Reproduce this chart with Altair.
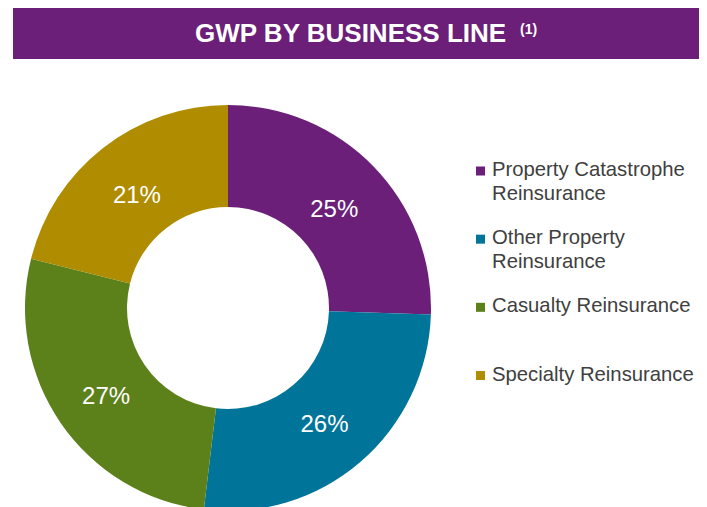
import altair as alt
import pandas as pd

# ---- data ----
categories = [
    "Property Catastrophe Reinsurance",
    "Other Property Reinsurance",
    "Casualty Reinsurance",
    "Specialty Reinsurance",
]
legend_line1 = ["Property Catastrophe", "Other Property", "Casualty Reinsurance", "Specialty Reinsurance"]
legend_line2 = ["Reinsurance", "Reinsurance", "", ""]
shares = [25.5, 26.4, 27.0, 21.1]
share_labels = ["25%", "26%", "27%", "21%"]
colors = ["#6B1F78", "#007599", "#5C801A", "#B08C00"]
title_main = ["GWP BY BUSINESS LINE"]
title_note = ["(1)"]

df = pd.DataFrame({
    "cat": categories,
    "order": list(range(len(categories))),
    "share": shares,
    "label": share_labels,
    "line1": legend_line1,
    "line2": legend_line2,
})

FONT = "Liberation Sans"
CX, CY = 220, 300

base = alt.Chart(df)
color = alt.Color("cat:N", scale=alt.Scale(domain=categories, range=colors), legend=None)
theta = alt.Theta("share:Q", stack=True)
order = alt.Order("order:Q")

arc = base.mark_arc(radius=203, innerRadius=101).encode(
    theta=theta, order=order, color=color,
    x=alt.value(CX), y=alt.value(CY),
)

pct = base.mark_text(radius=148, fontSize=24, font=FONT, color="white", dy=5).encode(
    theta=theta, order=order, text="label:N",
    x=alt.value(CX), y=alt.value(CY),
)

ly = alt.Y("cat:N", scale=alt.Scale(domain=categories, range=[163, 367.5], padding=0), axis=None)

squares = base.mark_square(size=81, opacity=1).encode(
    x=alt.value(472.5), y=ly, color=color,
)
t1 = base.mark_text(align="left", baseline="middle", fontSize=20.3, font=FONT, color="#404040", dy=-1).encode(
    x=alt.value(484), y=ly, text="line1:N",
)
t2 = base.mark_text(align="left", baseline="middle", fontSize=20.3, font=FONT, color="#404040", dy=22.5).encode(
    x=alt.value(484), y=ly, text="line2:N",
)

banner = alt.Chart(pd.DataFrame({"t": title_main})).mark_rect(color="#6B1F78").encode(
    x=alt.value(5), x2=alt.value(700), y=alt.value(-1), y2=alt.value(51),
)
title_text = alt.Chart(pd.DataFrame({"t": title_main})).mark_text(
    align="left", baseline="middle", fontSize=26, fontWeight="bold", font=FONT, color="white"
).encode(x=alt.value(187), y=alt.value(26), text="t:N")
note_text = alt.Chart(pd.DataFrame({"t": title_note})).mark_text(
    align="left", baseline="middle", fontSize=14, fontWeight="bold", font=FONT, color="white"
).encode(x=alt.value(512), y=alt.value(22), text="t:N")

chart = alt.layer(banner, title_text, note_text, arc, pct, squares, t1, t2).properties(
    width=691, height=499, padding=0,
    autosize=alt.AutoSizeParams(type="none"),
).configure_view(stroke=None)

chart.save("out.html", embed_options={"renderer": "svg", "actions": False})
